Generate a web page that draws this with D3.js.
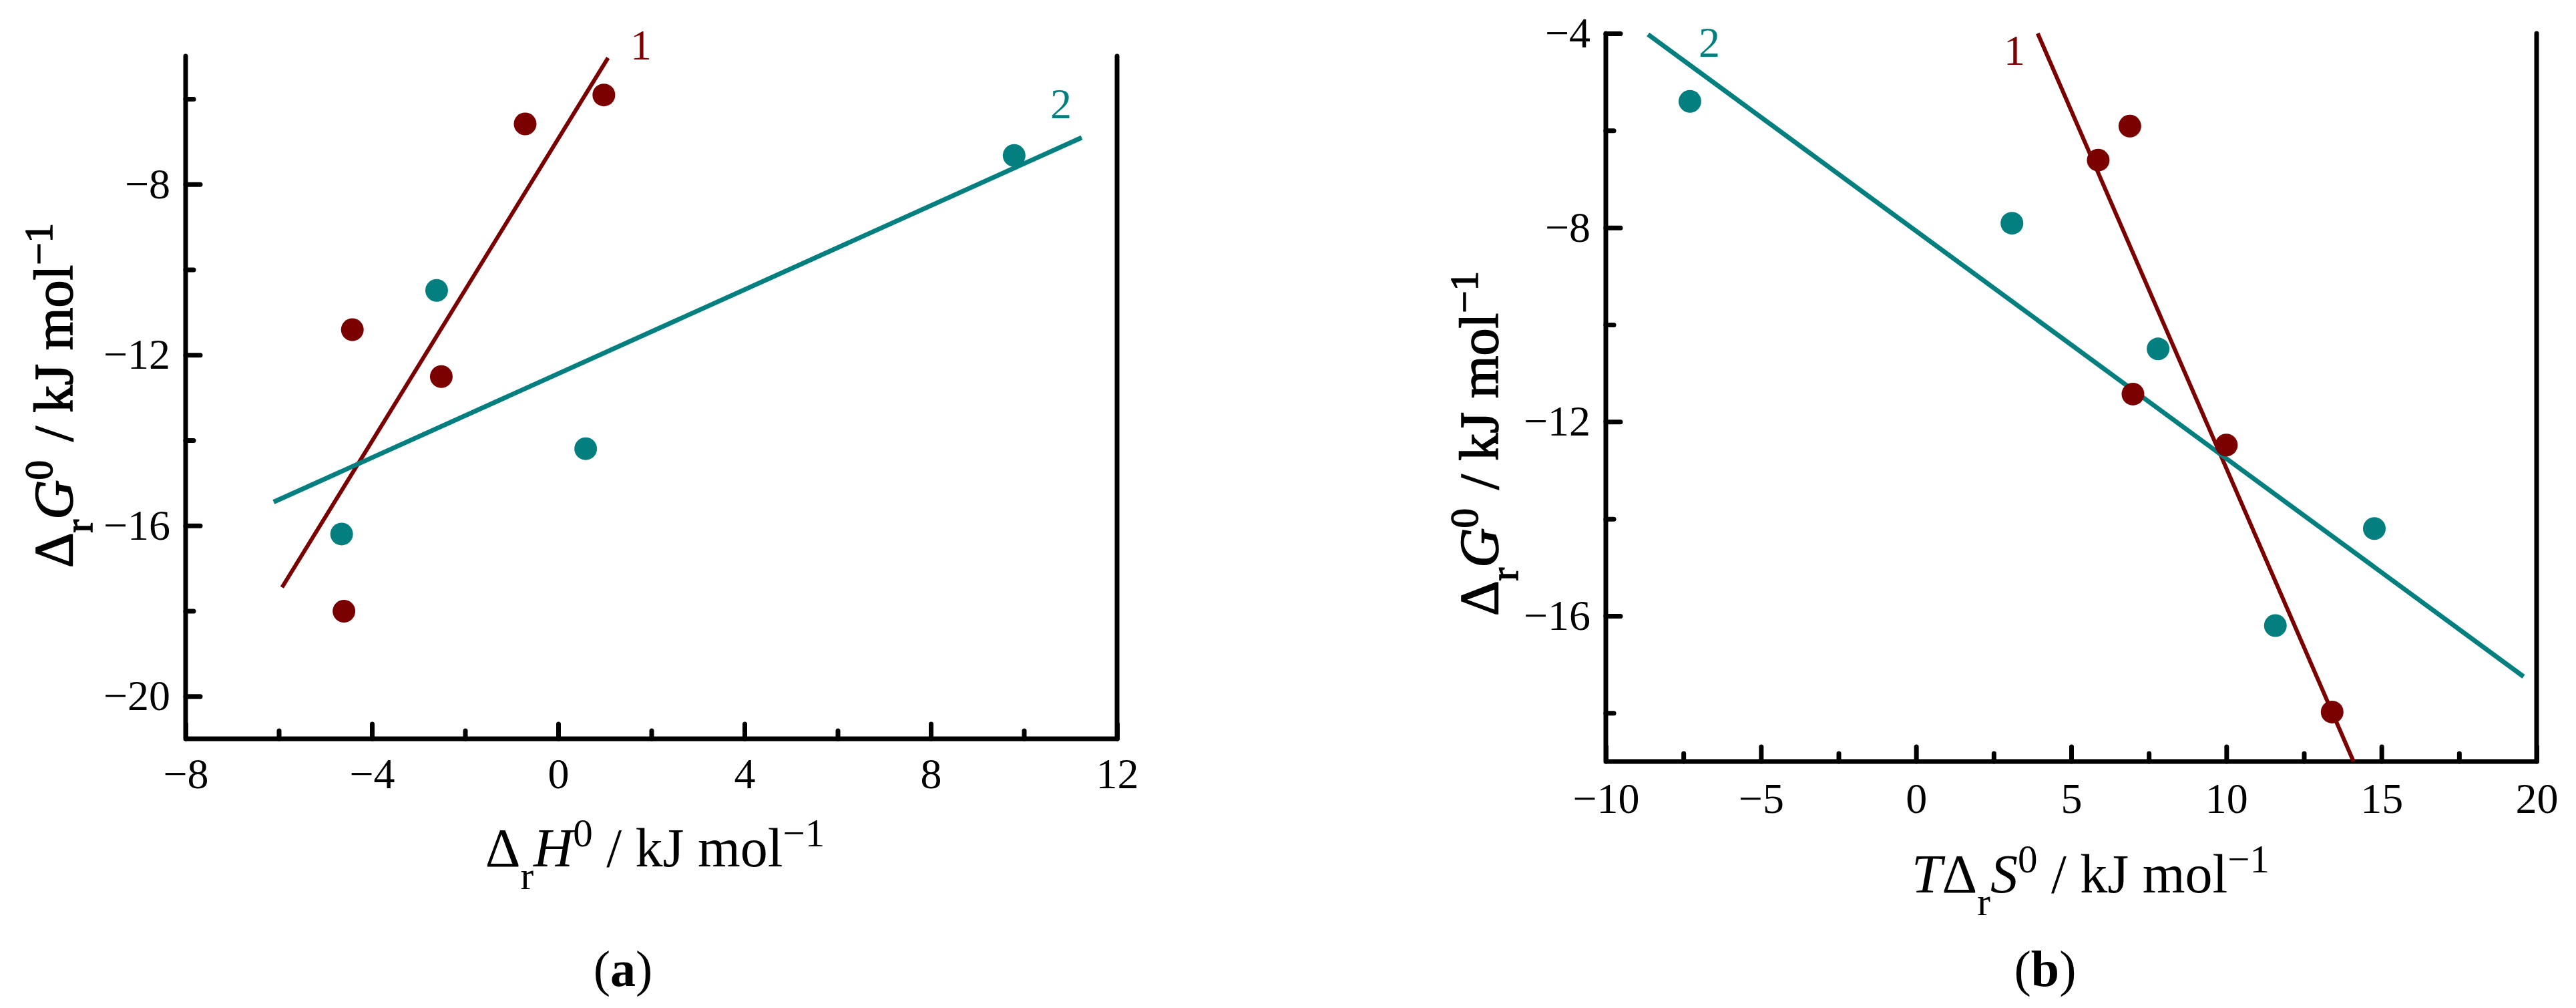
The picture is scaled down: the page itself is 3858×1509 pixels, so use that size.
<!DOCTYPE html>
<html>
<head>
<meta charset="UTF-8">
<title></title>
<style>
  body { margin: 0; background: #fff; }
  svg { display: block; font-family: "Liberation Serif", "Times New Roman", serif; }
</style>
</head>
<body>
<svg width="3858" height="1509"></svg>
<script src="https://cdn.jsdelivr.net/npm/d3@7"></script>
<script>
// panel (a): ΔrG0 vs ΔrH0
var aRedX = [0.98, -0.71, -4.42, -2.51, -4.60];
var aRedY = [-5.91, -6.59, -11.41, -12.51, -18.01];
var aTealX = [9.79, -2.61, 0.59, -4.65];
var aTealY = [-7.33, -10.49, -14.20, -16.20];
var aRedFit = [[-5.93, -17.45], [1.07, -5.04]];
var aTealFit = [[-6.11, -15.45], [11.24, -6.91]];
var aXTicks = [-8, -4, 0, 4, 8, 12];
var aXMinor = [-6, -2, 2, 6, 10];
var aYTicks = [-8, -12, -16, -20];
var aYMinor = [-6, -10, -14, -18];

// panel (b): ΔrG0 vs TΔrS0
var bRedX = [6.89, 5.87, 6.99, 10.0, 13.41];
var bRedY = [-5.91, -6.61, -11.43, -12.48, -17.98];
var bTealX = [-7.29, 3.09, 7.80, 14.77, 11.58];
var bTealY = [-5.40, -7.91, -10.50, -14.20, -16.20];
var bRedFit = [[3.92, -4.0], [14.1, -19.0]];
var bTealFit = [[-8.64, -4.02], [19.58, -17.25]];
var bXTicks = [-10, -5, 0, 5, 10, 15, 20];
var bXMinor = [-7.5, -2.5, 2.5, 7.5, 12.5, 17.5];
var bYTicks = [-4, -8, -12, -16];
var bYMinor = [-6, -10, -14, -18];

var RED = '#7b0000', TEAL = '#047f80';
var svg = d3.select('svg');

// text with sub/superscripts, parts: {t, off, small, it}
function rich(sel, parts, size) {
  var cur = 0;
  parts.forEach(function(p) {
    var off = p.off || 0;
    var ts = sel.append('tspan').text(p.t).attr('dy', off - cur);
    cur = off;
    if (p.small) ts.attr('font-size', size * 0.72);
    if (p.it) ts.attr('font-style', 'italic');
    if (p.dx) ts.attr('dx', p.dx);
  });
}

function panel(o) {
  var x = d3.scaleLinear().domain(o.xd).range(o.xr);
  var y = d3.scaleLinear().domain(o.yd).range(o.yr);
  var g = svg.append('g');

  // ticks pointing inward
  var axes = [
    [d3.axisBottom(x).tickValues(o.xt).tickSize(-22).tickPadding(o.xpad).tickFormat(d3.format('d')), 'translate(0,' + o.yr[0] + ')'],
    [d3.axisBottom(x).tickValues(o.xm).tickSize(-12).tickFormat(''), 'translate(0,' + o.yr[0] + ')'],
    [d3.axisLeft(y).tickValues(o.yt).tickSize(-22).tickPadding(23).tickFormat(d3.format('d')), 'translate(' + o.xr[0] + ',0)'],
    [d3.axisLeft(y).tickValues(o.ym).tickSize(-12).tickFormat(''), 'translate(' + o.xr[0] + ',0)']
  ];
  axes.forEach(function(a) {
    var ax = g.append('g').attr('transform', a[1]).call(a[0].tickSizeOuter(0));
    ax.select('.domain').remove();
    ax.selectAll('line').attr('stroke', '#000').attr('stroke-width', 7).attr('stroke-linecap', 'round');
    ax.selectAll('text').attr('font-size', 64).attr('font-family', '"Liberation Serif", serif').attr('fill', '#000');
  });

  // frame: left, bottom, right
  g.append('path')
    .attr('d', 'M' + x(o.xd[0]) + ',' + y(o.yd[1]) + 'V' + y(o.yd[0]) + 'H' + x(o.xd[1]) + 'V' + y(o.yd[1]))
    .attr('fill', 'none').attr('stroke', '#000').attr('stroke-width', 7)
    .attr('stroke-linejoin', 'round').attr('stroke-linecap', 'round');

  var line = d3.line().x(function(d) { return x(d[0]); }).y(function(d) { return y(d[1]); });
  g.append('path').datum(o.redFit).attr('d', line).attr('fill', 'none').attr('stroke', RED).attr('stroke-width', 6);
  g.append('path').datum(o.tealFit).attr('d', line).attr('fill', 'none').attr('stroke', TEAL).attr('stroke-width', 7);

  g.selectAll('.rd').data(o.redX).enter().append('circle')
    .attr('cx', function(d) { return x(d); })
    .attr('cy', function(d, i) { return y(o.redY[i]); })
    .attr('r', 17).attr('fill', RED);
  g.selectAll('.td').data(o.tealX).enter().append('circle')
    .attr('cx', function(d) { return x(d); })
    .attr('cy', function(d, i) { return y(o.tealY[i]); })
    .attr('r', 17).attr('fill', TEAL);

  // series labels
  g.append('text').attr('x', o.lab1[0]).attr('y', o.lab1[1]).attr('text-anchor', 'middle')
    .attr('font-size', 64).attr('fill', RED).text('1');
  g.append('text').attr('x', o.lab2[0]).attr('y', o.lab2[1]).attr('text-anchor', 'middle')
    .attr('font-size', 64).attr('fill', TEAL).text('2');

  // x title
  var xt = g.append('text').attr('x', o.xtitle[0]).attr('y', o.xtitle[1])
    .attr('text-anchor', 'middle').attr('font-size', 82);
  rich(xt, o.xparts, 82);

  // y title (looks a little heavier than the x title)
  var yt = g.append('text')
    .attr('transform', 'translate(' + o.ytitle[0] + ',' + o.ytitle[1] + ') rotate(-90)')
    .attr('text-anchor', 'middle').attr('font-size', 82)
    .attr('stroke', '#000').attr('stroke-width', 1.6);
  rich(yt, [
    {t: 'Δ'}, {t: 'r', off: 30, small: true}, {t: 'G', it: true},
    {t: '0', off: -30, small: true}, {t: '/ kJ mol', dx: 28}, {t: '−1', off: -30, small: true}
  ], 82);

  // panel letter
  var pl = g.append('text').attr('x', o.letter[0]).attr('y', o.letter[1])
    .attr('text-anchor', 'middle').attr('font-size', 76);
  pl.append('tspan').text('(');
  pl.append('tspan').attr('font-weight', 'bold').text(o.name);
  pl.append('tspan').text(')');
}

panel({
  xd: [-8, 12], xr: [278, 1673], yd: [-21, -5], yr: [1106, 84],
  xt: aXTicks, xm: aXMinor, yt: aYTicks, ym: aYMinor, xpad: 29,
  redX: aRedX, redY: aRedY, tealX: aTealX, tealY: aTealY,
  redFit: aRedFit, tealFit: aTealFit,
  lab1: [960, 89], lab2: [1589, 177],
  xtitle: [981, 1297],
  xparts: [{t: 'Δ'}, {t: 'r', off: 34, small: true}, {t: 'H', it: true},
           {t: '0', off: -30, small: true}, {t: ' / kJ mol'}, {t: '−1', off: -30, small: true}],
  ytitle: [108, 592],
  letter: [933, 1476], name: 'a'
});

panel({
  xd: [-10, 20], xr: [2405, 3799], yd: [-19, -4], yr: [1140, 50],
  xt: bXTicks, xm: bXMinor, yt: bYTicks, ym: bYMinor, xpad: 32,
  redX: bRedX, redY: bRedY, tealX: bTealX, tealY: bTealY,
  redFit: bRedFit, tealFit: bTealFit,
  lab1: [3017, 97], lab2: [2560, 85],
  xtitle: [3131, 1336],
  xparts: [{t: 'T', it: true}, {t: 'Δ'}, {t: 'r', off: 34, small: true}, {t: 'S', it: true},
           {t: '0', off: -30, small: true}, {t: ' / kJ mol'}, {t: '−1', off: -30, small: true}],
  ytitle: [2243, 664],
  letter: [3063, 1476], name: 'b'
});
</script>
</body>
</html>
